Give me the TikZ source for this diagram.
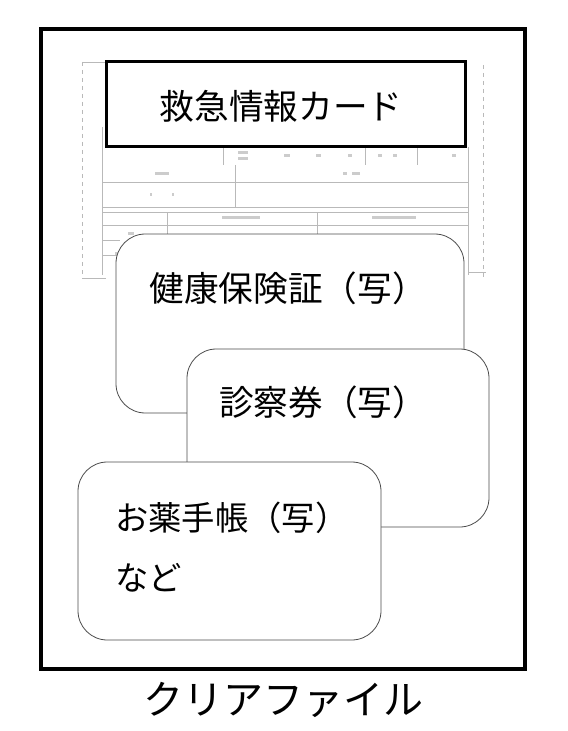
\documentclass[tikz,border=0pt]{standalone}
\usepackage{fontspec}
\setmainfont{Noto Sans CJK JP}
\usetikzlibrary{positioning}

\tikzset{
  formline/.style={gray!55, line width=0.6pt},
  blob/.style={gray!40},
  card/.style={draw=black!70, line width=0.6pt, fill=white, rounded corners=22pt, inner sep=0pt},
  cardtext/.style={font=\fontsize{26}{45}\selectfont, inner sep=0pt},
}

\begin{document}
\begin{tikzpicture}[x=0.75pt, y=-0.75pt]
    \useasboundingbox (0,0) rectangle (567,731);

    % Clear file
    \draw[line width=3pt] (41,29) rectangle (525,669);
    \node[font=\fontsize{30}{36}\selectfont, inner sep=0pt] (clear) at (283,700) {クリアファイル};

    % Faint form behind the cards
    \draw[formline, dashed] (82,62) -- (82,278);
    \draw[formline] (82,62) -- (106,62);
    \draw[formline, dashed] (483,65) -- (483,280);
    \draw[formline] (82,278) -- (106,278);
    \draw[formline] (468,272) -- (486,272);
    \draw[formline] (102,127) -- (102,275);
    \draw[formline] (468,147) -- (468,275);
    \draw[formline] (102,182) -- (468,182);
    \draw[formline] (102,207) -- (468,207);
    \draw[formline] (102,212) -- (468,212);
    \draw[formline] (102,225) -- (468,225);
    \draw[formline] (102,240) -- (120,240);
    \draw[formline] (102,255) -- (120,255);
    \draw[formline] (223,147) -- (223,165);
    \draw[formline] (235,165) -- (235,207);
    \draw[formline] (365,147) -- (365,165);
    \draw[formline] (417,147) -- (417,165);
    \draw[formline] (167,212) -- (167,250);
    \draw[formline] (317,212) -- (317,235);
    \foreach \x/\y/\w in {238/151/10, 238/157/10, 284/154/6, 316/154/5, 348/154/4, 378/154/4, 393/154/4, 452/154/4,
                          155/172/14, 343/172/4, 352/172/8, 150/193/2, 172/193/2,
                          222/216/38, 372/216/44, 128/232/6, 115/252/4}
      \fill[blob] (\x,\y) rectangle ++(\w,3);

    % Emergency card title
    \node[draw, line width=2.25pt, fill=white, minimum width=269pt, minimum height=63.4pt] (title) at (286,103.75) {};
    \node[font=\fontsize{26}{32}\selectfont, inner sep=0pt] (titletext) at (281,106) {救急情報カード};

    % Copies
    \node[card, minimum width=261pt, minimum height=134.25pt] (insurance) at (290,323.5) {};
    \node[cardtext] (insurancetext) at (288,288) {健康保険証（写）};

    \node[card, minimum width=226.5pt, minimum height=133.5pt] (ticket) at (338,438) {};
    \node[cardtext] (tickettext) at (323,402.5) {診察券（写）};

    \node[card, minimum width=227.25pt, minimum height=133.5pt] (notebook) at (229.5,551) {};
    \node[cardtext, font=\fontsize{25}{45}\selectfont, anchor=west, align=left] (notebooktext) at (115,547) {お薬手帳（写）\\など};
\end{tikzpicture}
\end{document}
